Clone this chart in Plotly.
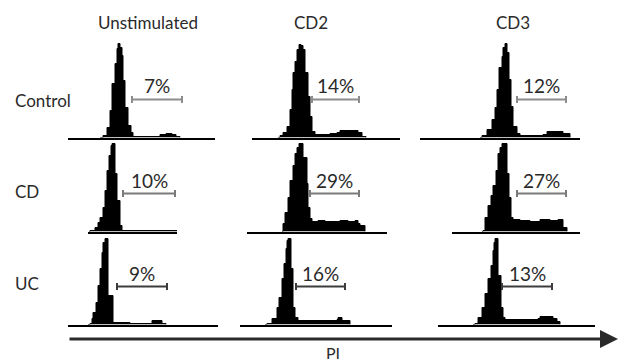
import plotly.graph_objects as go

# ---------------- data (PI channel vs. cell count) ----------------
col_labels = ["Unstimulated", "CD2", "CD3"]
row_labels = ["Control", "CD", "UC"]
gate_labels = [["7%", "14%", "12%"], ["10%", "29%", "27%"], ["9%", "16%", "13%"]]

# gates (PI channel start / end) per row, per column
gate_start = [[64, 72, 97], [55, 70, 97], [49, 56, 82]]
gate_end = [[114, 119, 146], [107, 119, 146], [99, 105, 132]]

ctrl_unstim_pi = [32, 35, 39, 42, 44, 47, 49, 50, 52, 54, 55, 57, 60, 63, 65, 72, 90, 92, 98, 104, 108, 112]
ctrl_unstim_cnt = [0, 2, 10, 27, 54, 74, 89, 94, 90, 82, 57, 30, 12, 5, 1, 1, 1, 3, 4, 3, 1, 0]
ctrl_cd2_pi = [38, 40, 43, 47, 50, 52, 53, 55, 57, 59, 61, 63, 65, 68, 70, 72, 75, 90, 97, 100, 110, 118, 122, 126]
ctrl_cd2_cnt = [0, 2, 5, 11, 28, 48, 65, 76, 88, 93, 92, 88, 65, 41, 21, 6, 3, 4, 5, 7, 7, 5, 1, 0]
ctrl_cd3_pi = [60, 62, 67, 72, 75, 77, 79, 82, 83, 85, 87, 89, 91, 93, 97, 100, 123, 127, 143, 150]
ctrl_cd3_cnt = [0, 2, 8, 18, 30, 48, 70, 81, 90, 94, 85, 58, 31, 11, 4, 2, 3, 6, 4, 0]

cd_unstim_pi = [21, 22, 27, 30, 32, 35, 37, 39, 41, 43, 44, 47, 49, 52, 54, 109]
cd_unstim_cnt = [0, 1, 4, 9, 14, 24, 41, 61, 76, 86, 88, 58, 31, 6, 1, 1]
cd_cd2_pi = [42, 43, 45, 48, 50, 53, 55, 57, 59, 63, 67, 68, 70, 72, 78, 85, 93, 100, 108, 115, 118, 120, 125]
cd_cd2_cnt = [0, 8, 19, 34, 51, 66, 78, 84, 88, 74, 48, 24, 13, 10, 11, 10, 10, 11, 10, 11, 8, 6, 0]
cd_cd3_pi = [62, 63, 65, 68, 71, 73, 76, 78, 80, 82, 87, 89, 91, 93, 100, 110, 120, 130, 138, 143, 147]
cd_cd3_cnt = [0, 1, 14, 26, 36, 46, 61, 78, 84, 88, 58, 34, 14, 12, 11, 10, 12, 11, 12, 4, 0]

uc_unstim_pi = [20, 22, 24, 25, 28, 30, 32, 34, 35, 37, 40, 45, 62, 84, 94, 98]
uc_unstim_cnt = [0, 1, 6, 12, 22, 39, 56, 72, 82, 86, 29, 2, 1, 4, 1, 0]
uc_cd2_pi = [25, 27, 32, 37, 39, 42, 44, 46, 47, 48, 51, 53, 55, 58, 97, 98, 102, 110]
uc_cd2_cnt = [0, 1, 6, 17, 27, 46, 61, 76, 84, 86, 56, 17, 7, 4, 5, 7, 4, 0]
uc_cd3_pi = [53, 55, 58, 62, 65, 68, 71, 73, 74, 75, 78, 81, 83, 85, 113, 118, 120, 133, 137, 140]
uc_cd3_cnt = [0, 1, 7, 17, 31, 46, 59, 74, 82, 86, 49, 17, 7, 5, 5, 6, 8, 6, 3, 0]

hist_pi = [[ctrl_unstim_pi, ctrl_cd2_pi, ctrl_cd3_pi],
           [cd_unstim_pi, cd_cd2_pi, cd_cd3_pi],
           [uc_unstim_pi, uc_cd2_pi, uc_cd3_pi]]
hist_cnt = [[ctrl_unstim_cnt, ctrl_cd2_cnt, ctrl_cd3_cnt],
            [cd_unstim_cnt, cd_cd2_cnt, cd_cd3_cnt],
            [uc_unstim_cnt, uc_cd2_cnt, uc_cd3_cnt]]

# ---------------- layout (pixels) ----------------
W, H = 620, 364
col_left = [68, 240, 420]                # pixel where PI channel 0 sits for each column
panel_x = [[(68, 215), (252, 400), (420, 580)],
           [(88, 177), (247, 387), (452, 580)],
           [(68, 218), (240, 392), (438, 595)]]
row_base = [137.5, 231.5, 324.5]         # baseline pixel per row
gate_colors = ["#8c8c8c", "#7a7a7a", "#3c3c3c"]
GATE_Y = 38
FONT = "Lato, 'Open Sans', sans-serif"

fig = go.Figure()
layout = dict(width=W, height=H, margin=dict(l=0, r=0, t=0, b=0),
              paper_bgcolor="white", plot_bgcolor="rgba(0,0,0,0)", showlegend=False)
shapes, annotations = [], []

k = 0
for r in range(3):
    for c in range(3):
        k += 1
        xa = "x" if k == 1 else f"x{k}"
        ya = "y" if k == 1 else f"y{k}"
        xkey = "xaxis" if k == 1 else f"xaxis{k}"
        ykey = "yaxis" if k == 1 else f"yaxis{k}"
        x0p, x1p = panel_x[r][c]
        L = col_left[c]
        layout[xkey] = dict(domain=[x0p / W, x1p / W], range=[x0p - L, x1p - L],
                            showline=True, linecolor="black", linewidth=2,
                            showgrid=False, zeroline=False, showticklabels=False,
                            ticks="", anchor=ya, fixedrange=True)
        yb = row_base[r]
        layout[ykey] = dict(domain=[1 - yb / H, 1 - (yb - 100) / H], range=[0, 100],
                            showline=False, showgrid=False, zeroline=False,
                            showticklabels=False, ticks="", anchor=xa, fixedrange=True)
        fig.add_trace(go.Scatter(x=hist_pi[r][c], y=hist_cnt[r][c], mode="lines",
                                 line=dict(shape="hv", color="black", width=1),
                                 fill="tozeroy", fillcolor="black",
                                 xaxis=xa, yaxis=ya, hoverinfo="skip"))
        gs, ge = gate_start[r][c], gate_end[r][c]
        gc = gate_colors[r]
        shapes.append(dict(type="line", xref=xa, yref=ya, x0=gs, x1=ge, y0=GATE_Y, y1=GATE_Y,
                           line=dict(color=gc, width=2)))
        for gx in (gs, ge):
            shapes.append(dict(type="line", xref=xa, yref=ya, x0=gx, x1=gx,
                               y0=GATE_Y - 3.5, y1=GATE_Y + 3.5, line=dict(color=gc, width=2)))
        annotations.append(dict(xref=xa, yref=ya, x=(gs + ge) / 2, y=GATE_Y, text=gate_labels[r][c],
                                showarrow=False, yanchor="bottom", xanchor="center", yshift=0,
                                font=dict(family=FONT, size=19, color="#2a2a2a")))

# column headers
for c, (lab, cx) in enumerate(zip(col_labels, [148, 311, 513])):
    annotations.append(dict(xref="paper", yref="paper", x=cx / W, y=1 - 22 / H, text=lab,
                            showarrow=False, xanchor="center", yanchor="middle",
                            font=dict(family=FONT, size=17, color="#2a2a2a")))
# row labels
for lab, cy in zip(row_labels, [100, 191, 283]):
    annotations.append(dict(xref="paper", yref="paper", x=13 / W, y=1 - cy / H, text=lab,
                            showarrow=False, xanchor="left", yanchor="middle",
                            font=dict(family=FONT, size=17, color="#2a2a2a")))
# PI axis arrow
annotations.append(dict(xref="paper", yref="paper", x=618 / W, y=1 - 339 / H,
                        ax=-(618 - 68), ay=0, axref="pixel", ayref="pixel", text="",
                        showarrow=True, arrowhead=2, arrowsize=1.2, arrowwidth=3,
                        arrowcolor="#2a2a2a"))
annotations.append(dict(xref="paper", yref="paper", x=333 / W, y=0, text="PI",
                        showarrow=False, xanchor="center", yanchor="bottom",
                        font=dict(family=FONT, size=16, color="#2a2a2a")))

layout["shapes"] = shapes
layout["annotations"] = annotations
fig.update_layout(**layout)
fig.write_html("out.html", config={"displayModeBar": False},
               post_script="document.body.style.margin='0';")
